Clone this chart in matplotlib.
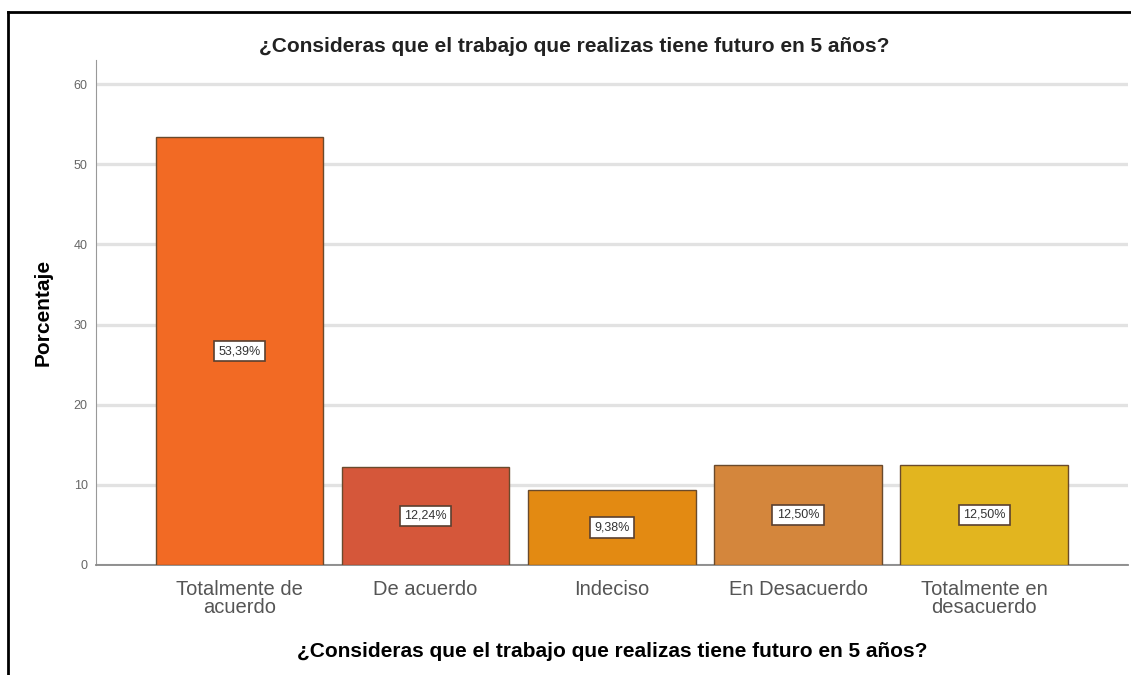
import numpy as np
import matplotlib
matplotlib.use("Agg")
import matplotlib.pyplot as plt
from matplotlib.lines import Line2D

plt.rcParams['font.family'] = ['Liberation Sans', 'DejaVu Sans']

pregunta = "¿Consideras que el trabajo que realizas tiene futuro en 5 años?"
categorias = ["Totalmente de\nacuerdo", "De acuerdo", "Indeciso",
              "En Desacuerdo", "Totalmente en\ndesacuerdo"]
porcentajes = [53.39, 12.24, 9.38, 12.50, 12.50]
etiquetas = ["53,39%", "12,24%", "9,38%", "12,50%", "12,50%"]
colores = ["#F26A24", "#D5573A", "#E38A12", "#D4863C", "#E2B51F"]

fig = plt.figure(figsize=(11.31, 6.75), dpi=100)
ax = fig.add_axes([0.085, 0.163, 0.912, 0.748])

x = np.arange(len(categorias))
barras = ax.bar(x, porcentajes, width=0.9, color=colores,
                edgecolor="#6a4a2c", linewidth=1.0, zorder=3)

# etiqueta con el porcentaje en medio de cada barra
for b, txt in zip(barras, etiquetas):
    ax.text(b.get_x() + b.get_width() / 2, b.get_height() / 2, txt,
            ha="center", va="center", fontsize=9, color="#333333", zorder=4,
            bbox=dict(boxstyle="square,pad=0.35", fc="white",
                      ec="#5a4030", lw=1.2))

ax.set_xlim(-0.77, 4.77)
ax.set_ylim(0, 63)
ax.set_yticks([0, 10, 20, 30, 40, 50, 60])
ax.yaxis.grid(True, color="#e2e2e2", linewidth=2.4, zorder=0)
ax.set_axisbelow(True)

for s in ["top", "right"]:
    ax.spines[s].set_visible(False)
ax.spines["left"].set_color("#999999")
ax.spines["bottom"].set_color("#888888")
ax.spines["bottom"].set_linewidth(1.3)
ax.tick_params(axis="both", length=0)
ax.tick_params(axis="y", labelsize=9, labelcolor="#666666", pad=6)
ax.set_xticks(x)
ax.set_xticklabels(categorias, fontsize=14.5, color="#555555", linespacing=0.92)
ax.tick_params(axis="x", pad=11)

ax.set_ylabel("Porcentaje", fontsize=15, fontweight="bold")
ax.yaxis.set_label_coords(-0.042, 0.5)
ax.set_xlabel(pregunta, fontsize=15, fontweight="bold")
ax.xaxis.set_label_coords(0.5, -0.152)
fig.text(0.508, 0.931, pregunta, ha="center", va="center",
         fontsize=15, fontweight="bold", color="#222222")

# marco exterior: borde superior e izquierdo
fig.add_artist(Line2D([0.0075, 0.0075], [0.0, 0.982], color="black", lw=2,
                      transform=fig.transFigure))
fig.add_artist(Line2D([0.0075, 1.0], [0.982, 0.982], color="black", lw=2,
                      transform=fig.transFigure))

fig.savefig("out.png", dpi=100)
